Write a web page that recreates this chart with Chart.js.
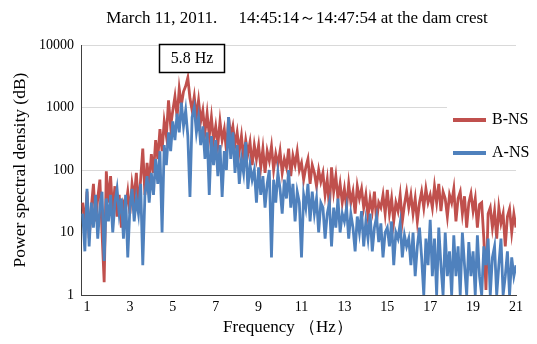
<!DOCTYPE html>
<html>
<head>
<meta charset="utf-8">
<script src="https://cdn.jsdelivr.net/npm/chart.js@4/dist/chart.umd.min.js"></script>
<style>
html, body { margin: 0; padding: 0; background: #fff; }
</style>
</head>
<body>
<canvas id="c" width="537" height="344"></canvas>
<script>
// frequency grid starts at 0.8 Hz, 0.1 Hz step
const startHz = 0.8;
const stepHz = 0.1;

// B-NS (red) spectrum, one row per Hz
const bNs = [
  30, 12,
  45, 8, 25, 60, 15, 35, 70, 10, 1.6, 95,
  30, 80, 20, 55, 18, 40, 12, 30, 25, 45,
  20, 60, 35, 90, 25, 70, 220, 40, 130, 60,
  180, 90, 300, 150, 450, 200, 600, 350, 1300, 500,
  900, 1500, 700, 2000, 1100, 1800, 2200, 3000, 1400, 900,
  1500, 700, 1300, 600, 900, 400, 800, 350, 700, 300,
  500, 250, 600, 300, 450, 200, 700, 350, 500, 250,
  400, 200, 350, 150, 300, 180, 280, 120, 250, 150,
  250, 110, 220, 90, 200, 140, 240, 100, 180, 120,
  200, 90, 150, 110, 220, 80, 170, 120, 200, 100,
  130, 70, 110, 150, 60, 120, 90, 55, 100, 65,
  90, 40, 70, 25, 110, 45, 80, 35, 60, 30,
  50, 25, 60, 30, 45, 20, 55, 35, 50, 25,
  40, 18, 35, 22, 45, 15, 30, 25, 40, 20,
  48, 20, 35, 15, 30, 22, 40, 15, 28, 45,
  25, 40, 20, 35, 15, 30, 45, 25, 50, 30,
  40, 25, 55, 30, 60, 22, 45, 35, 18, 40,
  30, 50, 15, 35, 45, 20, 38, 12, 30, 42,
  22, 35, 12, 28, 30, 8, 1.2, 20, 25, 12,
  22, 8, 25, 14, 20, 6, 18, 24, 10, 20,
  12
];

// A-NS (blue) spectrum
const aNs = [
  20, 5,
  50, 6, 30, 12, 40, 8, 25, 45, 3.5, 35,
  15, 40, 10, 30, 50, 20, 35, 8, 40, 4,
  25, 50, 15, 35, 20, 60, 3, 40, 80, 30,
  90, 40, 150, 60, 200, 10, 250, 120, 400, 200,
  600, 300, 800, 400, 1200, 500, 900, 350, 37, 700,
  1000, 400, 700, 250, 500, 150, 400, 40, 350, 120,
  300, 80, 250, 37, 200, 100, 700, 150, 400, 90,
  250, 60, 150, 90, 280, 50, 120, 70, 100, 30,
  110, 40, 80, 25, 60, 100, 4, 70, 30, 90,
  50, 20, 70, 35, 100, 25, 60, 15, 45, 30,
  4, 40, 25, 60, 15, 45, 20, 35, 10, 30,
  25, 8, 20, 30, 6, 25, 12, 35, 10, 20,
  15, 25, 8, 20, 12, 5, 18, 10, 22, 6,
  15, 8, 20, 5, 12, 18, 7, 14, 4, 10,
  12, 6, 15, 3, 10, 8, 14, 4, 9, 6,
  8, 3, 10, 2, 6, 12, 4, 1, 8, 3,
  16, 2, 8, 1, 12, 3, 1, 10, 2, 5,
  1, 9, 2, 6, 1, 10, 3, 1, 7, 2,
  5, 1, 9, 2, 1, 6, 3, 8, 1, 4,
  6, 1, 3, 8, 1, 2, 5, 1, 4, 2,
  3
];

const xTicks = [1, 3, 5, 7, 9, 11, 13, 15, 17, 19, 21];
const yTicks = [1, 10, 100, 1000, 10000];

const RED = '#C0504D';
const BLUE = '#4F81BD';
const SERIF = '"Liberation Serif", "Times New Roman", serif';

function toPoints(arr) {
  return arr.map((v, i) => ({ x: +(startHz + i * stepHz).toFixed(2), y: v }));
}

// title, axis title, legend and the 5.8 Hz label
const extras = {
  id: 'extras',
  afterDraw(chart) {
    const ctx = chart.ctx;
    ctx.save();
    ctx.fillStyle = '#000';
    ctx.textBaseline = 'middle';
    ctx.textAlign = 'center';
    ctx.font = '17px ' + SERIF;
    ctx.fillText('March 11, 2011.\u3000 14:45:14\uFF5E14:47:54 at the dam crest', 297, 19);
    ctx.fillText('Frequency \uFF08Hz\uFF09', 288, 328);

    // legend
    ctx.fillStyle = '#fff';
    ctx.fillRect(447, 107, 70, 62);
    ctx.lineWidth = 4;
    ctx.strokeStyle = RED;
    ctx.beginPath(); ctx.moveTo(453, 120); ctx.lineTo(486, 120); ctx.stroke();
    ctx.strokeStyle = BLUE;
    ctx.beginPath(); ctx.moveTo(453, 153); ctx.lineTo(486, 153); ctx.stroke();
    ctx.fillStyle = '#000';
    ctx.textAlign = 'left';
    ctx.font = '16px ' + SERIF;
    ctx.fillText('B-NS', 492, 120);
    ctx.fillText('A-NS', 492, 153);

    // peak label
    ctx.fillStyle = '#fff';
    ctx.fillRect(159, 44, 65, 28);
    ctx.lineWidth = 1.5;
    ctx.strokeStyle = '#000';
    ctx.strokeRect(159.5, 44.5, 65, 28);
    ctx.fillStyle = '#000';
    ctx.textAlign = 'center';
    ctx.fillText('5.8 Hz', 192, 59);
    ctx.restore();
  }
};

new Chart(document.getElementById('c'), {
  type: 'line',
  data: {
    datasets: [
      { label: 'A-NS', data: toPoints(aNs), borderColor: BLUE, borderWidth: 2.8, pointRadius: 0, tension: 0 },
      { label: 'B-NS', data: toPoints(bNs), borderColor: RED, borderWidth: 2.8, pointRadius: 0, tension: 0 }
    ]
  },
  options: {
    responsive: false,
    animation: false,
    devicePixelRatio: 1,
    layout: { padding: { left: 0, top: 45, right: 21, bottom: 0 } },
    plugins: { legend: { display: false }, tooltip: { enabled: false } },
    scales: {
      x: {
        type: 'linear',
        min: 0.72,
        max: 21,
        afterBuildTicks: s => { s.ticks = xTicks.map(v => ({ value: v })); },
        afterFit: s => { s.height = 49; },
        ticks: { font: { family: SERIF, size: 14 }, color: '#000', padding: 4, autoSkip: false, maxRotation: 0 },
        grid: { display: false, drawTicks: false },
        border: { color: '#404040', width: 1 }
      },
      y: {
        type: 'logarithmic',
        min: 1,
        max: 10000,
        afterBuildTicks: s => { s.ticks = yTicks.map(v => ({ value: v })); },
        afterFit: s => { s.width = 81; },
        ticks: { font: { family: SERIF, size: 14 }, color: '#000', padding: 7, callback: v => String(v) },
        grid: { color: '#d9d9d9', lineWidth: 1, drawTicks: false },
        border: { color: '#404040', width: 1 },
        title: { display: true, text: 'Power spectral density (dB)', font: { family: SERIF, size: 17.5 }, color: '#000', padding: { top: 10 } }
      }
    }
  },
  plugins: [extras]
});
</script>
</body>
</html>
